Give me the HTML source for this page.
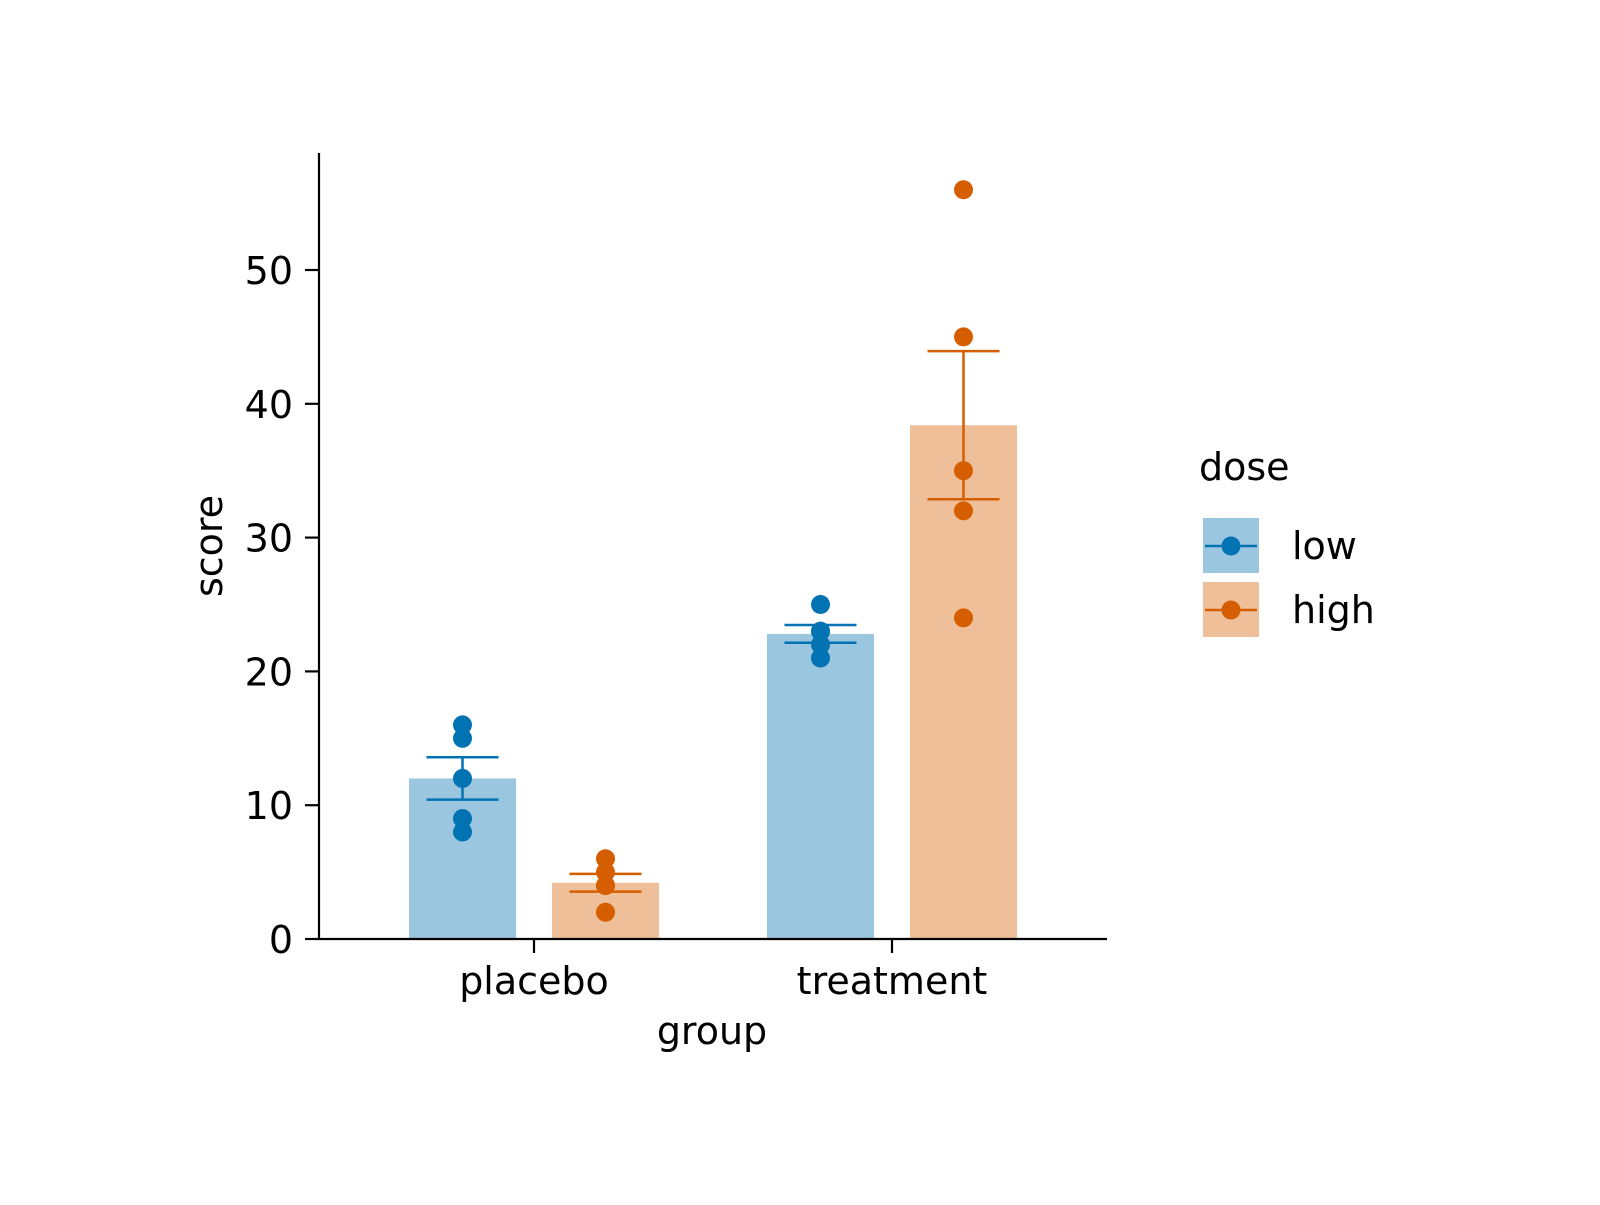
<!DOCTYPE html>
<html><head><meta charset="utf-8"><style>
html,body{margin:0;padding:0;background:#fff}
svg text{font-family:"DejaVu Sans","Liberation Sans",sans-serif;fill:#000}
</style></head><body>
<svg id="chart" width="1600" height="1200" xmlns="http://www.w3.org/2000/svg">
<g id="plot"></g>
</svg>
<script>
const categories = ["placebo","treatment"];
const doses = ["low","high"];
const placeboLow = [16,15,12,9,8];
const placeboHigh = [6,5,4,4,2];
const treatmentLow = [25,23,23,22,21];
const treatmentHigh = [56,45,35,32,24];
const yTicks = [0,10,20,30,40,50];

const series = {placebo:{low:placeboLow,high:placeboHigh},treatment:{low:treatmentLow,high:treatmentHigh}};
const colors = {low:{bar:"#9ac6df",pt:"#0173b2"},high:{bar:"#efbf99",pt:"#d55e00"}};
const ns="http://www.w3.org/2000/svg";
const g=document.getElementById('plot');
const X0=319,X1=1107,Y0=939,PER=13.38;
const y=v=>Y0-v*PER;
const catX=i=>534+i*358;
const offs={low:-71.5,high:71.5};
const BW=107;
const FS=38;
function el(t,a,txt){const e=document.createElementNS(ns,t);for(const k in a)e.setAttribute(k,a[k]);if(txt!==undefined)e.textContent=txt;g.appendChild(e);return e;}
categories.forEach((c,i)=>{
  doses.forEach(d=>{
    const vals=series[c][d];const n=vals.length;
    const m=vals.reduce((a,b)=>a+b,0)/n;
    const sd=Math.sqrt(vals.reduce((a,b)=>a+(b-m)*(b-m),0)/(n-1));
    const se=sd/Math.sqrt(n);
    const cx=catX(i)+offs[d];
    const r=el('rect',{x:cx-BW/2,y:y(m),width:BW,height:Y0-y(m),fill:colors[d].bar});
    
    
    const eg=el('path',{d:`M${cx-36},${y(m+se)}H${cx+36}M${cx-36},${y(m-se)}H${cx+36}M${cx},${y(m+se)}V${y(m-se)}`,stroke:colors[d].pt,'stroke-width':2.5,fill:'none'});
    
    
    vals.forEach(v=>{
      const p=el('circle',{cx:cx,cy:y(v),r:9.5,fill:colors[d].pt});
      
      
    });
  });
  const tk=el('line',{x1:catX(i),x2:catX(i),y1:Y0,y2:Y0+14,stroke:'#000','stroke-width':2.2});
  
  
  const tl=el('text',{x:catX(i),y:994,'font-size':FS,'text-anchor':'middle'},c);
  
  
});
yTicks.forEach(v=>{
  const tk=el('line',{x1:X0-14,x2:X0,y1:y(v),y2:y(v),stroke:'#000','stroke-width':2.2});
  
  
  const tl=el('text',{x:X0-26,y:y(v)+14,'font-size':FS,'text-anchor':'end'},String(v));
  
  
});
const ax=el('path',{d:`M${X0},153V${Y0}H${X1}`,stroke:'#000','stroke-width':2.2,fill:'none'});


const xl=el('text',{x:712,y:1044,'font-size':FS,'text-anchor':'middle'},'group');


const yl=el('text',{x:0,y:0,'font-size':FS,'text-anchor':'middle',transform:'translate(222,546) rotate(-90)'},'score');


const lt=el('text',{x:1199,y:480,'font-size':FS},'dose');


doses.forEach((d,k)=>{
  const top=518+k*64;
  const pr=el('rect',{x:1203,y:top,width:56,height:55,fill:colors[d].bar});
  
  
  const ln=el('line',{x1:1205,x2:1257,y1:top+28,y2:top+28,stroke:colors[d].pt,'stroke-width':2.5});
  
  
  const c=el('circle',{cx:1231,cy:top+28,r:9.5,fill:colors[d].pt});
  
  
  const t=el('text',{x:1292,y:top+41,'font-size':FS},d);
  
  
});
</script>
</body></html>
